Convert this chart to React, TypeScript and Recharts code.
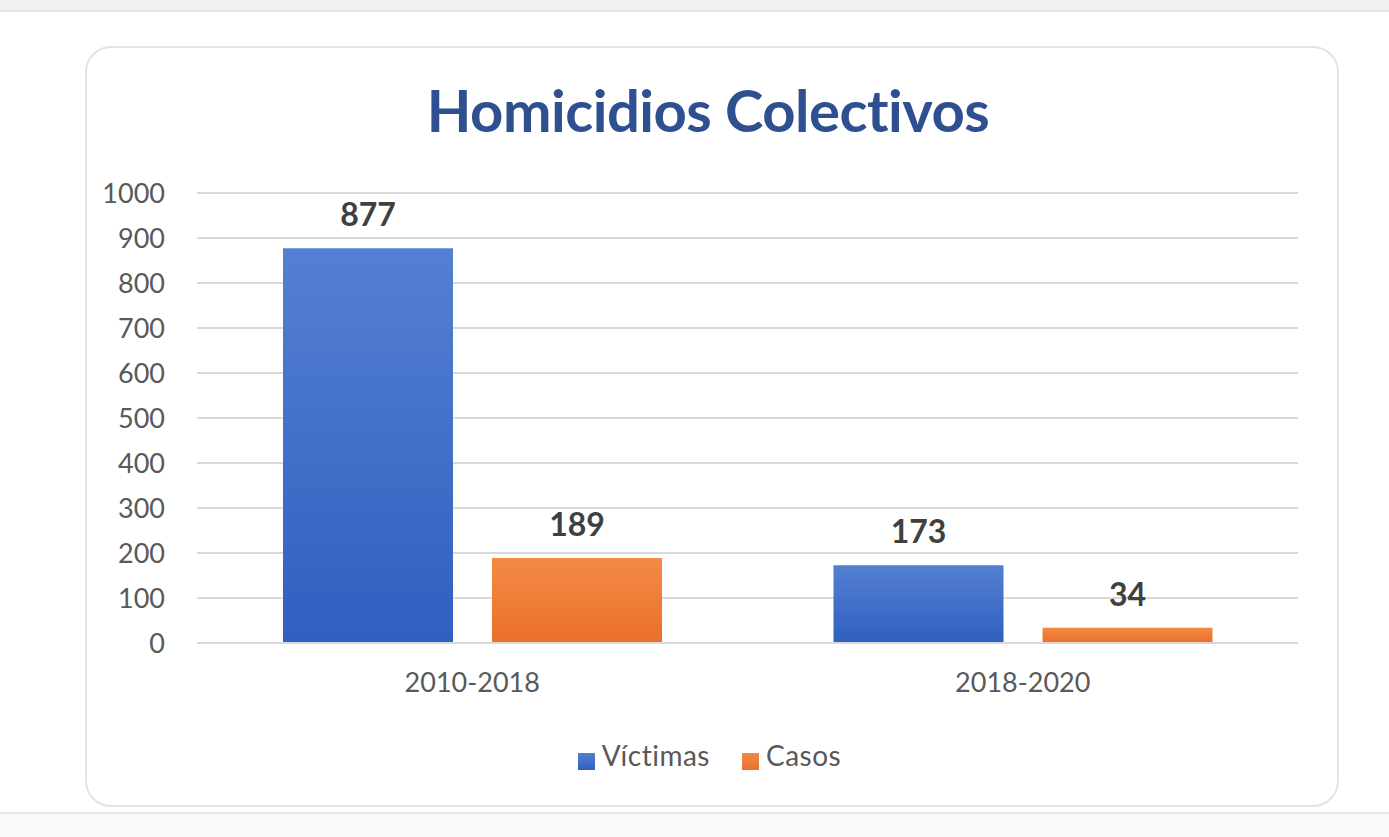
import React from 'react';
import { Bar, BarChart, CartesianGrid, LabelList, Legend, XAxis, YAxis } from 'recharts';

const PERIODS = ['2010-2018', '2018-2020'];
const VICTIMAS = [877, 173];
const CASOS = [189, 34];
const Y_TICKS = [0, 100, 200, 300, 400, 500, 600, 700, 800, 900, 1000];
const SERIES_ORDER = ['Víctimas', 'Casos'];

const data = PERIODS.map((period, i) => ({
  period,
  victimas: VICTIMAS[i],
  casos: CASOS[i],
}));

const FONT = 'Lato, "Open Sans", sans-serif';

export default function App() {
  return (
    <div
      style={{
        position: 'absolute',
        left: 0,
        top: 0,
        width: 1389,
        height: 837,
        background: '#ffffff',
        overflow: 'hidden',
        fontFamily: FONT,
      }}
    >
      <div
        style={{
          position: 'absolute',
          left: 0,
          top: 0,
          width: 1389,
          height: 10,
          background: '#f1f1f1',
          borderBottom: '2px solid #e6e6e6',
        }}
      />
      <div
        style={{
          position: 'absolute',
          left: 85,
          top: 46,
          width: 1250,
          height: 757,
          border: '2px solid #e4e4e4',
          borderRadius: 26,
        }}
      />
      <div
        style={{
          position: 'absolute',
          left: 0,
          top: 812,
          width: 1389,
          height: 25,
          background: '#fafafa',
          borderTop: '2px solid #e8e8e8',
        }}
      />
      <div
        style={{
          position: 'absolute',
          left: 0,
          top: 75,
          width: 1416,
          textAlign: 'center',
          fontSize: 58,
          fontWeight: 700,
          color: '#2f5090',
          letterSpacing: -0.5,
        }}
      >
        Homicidios Colectivos
      </div>
      <div style={{ position: 'absolute', left: 0, top: 0 }}>
        <BarChart
          width={1389}
          height={837}
          data={data}
          margin={{ top: 193, right: 91, bottom: 130, left: 137 }}
          barSize={170}
          barGap={39}
        >
          <defs>
            <linearGradient id="blueGrad" x1="0" y1="0" x2="0" y2="1">
              <stop offset="0%" stopColor="#5480d2" />
              <stop offset="100%" stopColor="#2f5fc0" />
            </linearGradient>
            <linearGradient id="orangeGrad" x1="0" y1="0" x2="0" y2="1">
              <stop offset="0%" stopColor="#f38a45" />
              <stop offset="100%" stopColor="#e9702a" />
            </linearGradient>
          </defs>
          <CartesianGrid stroke="#d9d9d9" strokeWidth={2} vertical={false} />
          <XAxis
            dataKey="period"
            axisLine={{ stroke: '#d9d9d9', strokeWidth: 2 }}
            tickLine={false}
            tickMargin={24}
            tick={{ fill: '#595959', fontSize: 27, fontFamily: FONT }}
          />
          <YAxis
            domain={[0, 1000]}
            ticks={Y_TICKS}
            interval={0}
            width={60}
            axisLine={false}
            tickLine={false}
            tickMargin={26}
            tick={{ fill: '#595959', fontSize: 27, fontFamily: FONT }}
          />
          <Legend
            verticalAlign="bottom"
            align="center"
            iconType="square"
            iconSize={17}
            itemSorter={(item: any) => SERIES_ORDER.indexOf(item.value)}
            wrapperStyle={{ top: 738, left: 31, width: 1389 }}
            formatter={(value) => (
              <span
                style={{
                  color: '#595959',
                  fontSize: 28,
                  fontFamily: FONT,
                  marginLeft: 3,
                  marginRight: 22,
                  letterSpacing: 0.5,
                }}
              >
                {value}
              </span>
            )}
          />
          <Bar dataKey="victimas" name="Víctimas" fill="url(#blueGrad)" isAnimationActive={false}>
            <LabelList
              dataKey="victimas"
              position="top"
              offset={22}
              fill="#404040"
              fontSize={32}
              fontWeight={700}
              fontFamily={FONT}
            />
          </Bar>
          <Bar dataKey="casos" name="Casos" fill="url(#orangeGrad)" isAnimationActive={false}>
            <LabelList
              dataKey="casos"
              position="top"
              offset={22}
              fill="#404040"
              fontSize={32}
              fontWeight={700}
              fontFamily={FONT}
            />
          </Bar>
        </BarChart>
      </div>
    </div>
  );
}
